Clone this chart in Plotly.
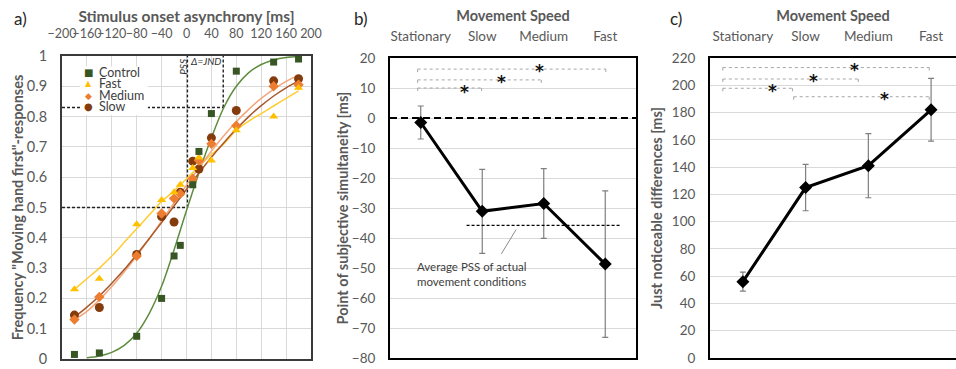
import plotly.graph_objects as go

# ---------------- Panel a data ----------------
soa = [-180, -140, -80, -40, -20, -10, 10, 20, 40, 80, 140, 180]
control = [0.015, 0.02, 0.075, 0.2, 0.34, 0.375, 0.575, 0.685, 0.81, 0.95, 0.98, 0.99]
fast = [0.23, 0.265, 0.445, 0.525, 0.55, 0.575, 0.63, 0.665, 0.655, 0.755, 0.80, 0.895]
medium = [0.13, 0.205, 0.34, 0.48, 0.53, 0.545, 0.595, 0.655, 0.71, 0.77, 0.90, 0.905]
slow = [0.145, 0.17, 0.345, 0.47, 0.452, 0.55, 0.653, 0.627, 0.73, 0.82, 0.918, 0.925]

fit_x_control = [-160, -140, -120, -100, -80, -60, -40, -20, 0, 20, 40, 60, 80, 100, 120, 140, 160, 180]
fit_control = [0.004, 0.01, 0.022, 0.045, 0.085, 0.15, 0.24, 0.36, 0.49, 0.615, 0.73, 0.83, 0.9, 0.945, 0.972, 0.987, 0.995, 0.998]
fit_x = [-180, -160, -140, -120, -100, -80, -60, -40, -20, 0, 20, 40, 60, 80, 100, 120, 140, 160, 180]
fit_fast = [0.23, 0.265, 0.30, 0.34, 0.385, 0.43, 0.475, 0.52, 0.555, 0.595, 0.635, 0.675, 0.71, 0.755, 0.785, 0.81, 0.835, 0.86, 0.885]
fit_medium = [0.13, 0.157, 0.195, 0.239, 0.288, 0.34, 0.397, 0.456, 0.515, 0.574, 0.631, 0.686, 0.737, 0.783, 0.824, 0.86, 0.89, 0.916, 0.937]
fit_slow = [0.138, 0.171, 0.208, 0.25, 0.295, 0.345, 0.397, 0.45, 0.505, 0.56, 0.614, 0.666, 0.714, 0.759, 0.80, 0.836, 0.868, 0.895, 0.918]

soa_ticks = [-200, -160, -120, -80, -40, 0, 40, 80, 120, 160, 200]
freq_ticks = [0, 0.1, 0.2, 0.3, 0.4, 0.5, 0.6, 0.7, 0.8, 0.9, 1]
pss_control = 1.5
jnd_control_x = 59
jnd_level = 0.83

# ---------------- Panel b / c data ----------------
speeds = ["Stationary", "Slow", "Medium", "Fast"]
pss_vals = [-1.5, -31.1, -28.5, -48.7]
pss_err = [5.5, 14.0, 11.6, 24.4]
pss_avg_movement = -35.8
jnd_vals = [56, 125, 141, 182]
jnd_err = [7, 17, 23.5, 23]

# significance brackets: (x_start, x_end, y, star_x, star_y)
sig_b = [(-0.05, 0.99, 10.0, 0.71, 10.7), (-0.05, 1.96, 12.7, 1.31, 14.0), (-0.05, 3.01, 16.3, 1.93, 17.7)]
sig_c = [(-0.32, 0.79, 197.8, 0.48, 200.2), (-0.32, 1.84, 204.6, 1.13, 207.5),
         (-0.32, 2.97, 213.0, 1.78, 215.6), (0.81, 2.97, 191.6, 2.25, 194.3)]

FONT = "Lato"
GRAY = "#595959"
GRID = "#D9D9D9"

fig = go.Figure()

# ---- panel a traces ----
fig.add_trace(go.Scatter(x=fit_x_control, y=fit_control, mode="lines", line=dict(color="#5E8C3E", width=1.5, shape="spline"), showlegend=False, xaxis="x", yaxis="y"))
fig.add_trace(go.Scatter(x=fit_x, y=fit_fast, mode="lines", line=dict(color="#FFCC33", width=1.5, shape="spline"), showlegend=False, xaxis="x", yaxis="y"))
fig.add_trace(go.Scatter(x=fit_x, y=fit_medium, mode="lines", line=dict(color="#F4A67A", width=1.5, shape="spline"), showlegend=False, xaxis="x", yaxis="y"))
fig.add_trace(go.Scatter(x=fit_x, y=fit_slow, mode="lines", line=dict(color="#A9582B", width=1.5, shape="spline"), showlegend=False, xaxis="x", yaxis="y"))

fig.add_trace(go.Scatter(x=soa, y=slow, mode="markers", name="Slow", marker=dict(symbol="circle", size=9, color="#843C0C"), showlegend=False, xaxis="x", yaxis="y"))
fig.add_trace(go.Scatter(x=soa, y=medium, mode="markers", name="Medium", marker=dict(symbol="diamond", size=8, color="#ED7D31"), showlegend=False, xaxis="x", yaxis="y"))
fig.add_trace(go.Scatter(x=soa, y=fast, mode="markers", name="Fast", marker=dict(symbol="triangle-up", size=8, color="#FFC000"), showlegend=False, xaxis="x", yaxis="y"))
fig.add_trace(go.Scatter(x=soa, y=control, mode="markers", name="Control", marker=dict(symbol="square", size=7, color="#375623"), showlegend=False, xaxis="x", yaxis="y"))

# ---- panel b ----
fig.add_trace(go.Scatter(x=list(range(len(speeds))), y=pss_vals, mode="lines+markers", showlegend=False,
                         line=dict(color="black", width=3), marker=dict(symbol="diamond", size=10, color="black"),
                         error_y=dict(type="data", array=pss_err, color="#7F7F7F", thickness=1.2, width=3),
                         xaxis="x2", yaxis="y2"))
# ---- panel c ----
fig.add_trace(go.Scatter(x=list(range(len(speeds))), y=jnd_vals, mode="lines+markers", showlegend=False,
                         line=dict(color="black", width=3), marker=dict(symbol="diamond", size=10, color="black"),
                         error_y=dict(type="data", array=jnd_err, color="#7F7F7F", thickness=1.2, width=3),
                         xaxis="x3", yaxis="y3"))

shapes = []
annotations = []

# panel a reference lines
dash_a = dict(color="#222222", width=1.4, dash="3px,2px")
shapes += [
    dict(type="line", xref="x", yref="y", x0=pss_control, x1=pss_control, y0=0.5, y1=1, line=dash_a, layer="between"),
    dict(type="line", xref="x", yref="y", x0=-200, x1=pss_control, y0=0.5, y1=0.5, line=dash_a, layer="between"),
    dict(type="line", xref="x", yref="y", x0=jnd_control_x, x1=jnd_control_x, y0=jnd_level, y1=1, line=dash_a, layer="between"),
    dict(type="line", xref="x", yref="y", x0=-200, x1=jnd_control_x, y0=jnd_level, y1=jnd_level, line=dash_a, layer="between"),
    # legend background
    dict(type="rect", xref="x", yref="y", x0=-171, x1=-62, y0=0.805, y1=0.965, fillcolor="white", line=dict(width=0), layer="between"),
]
# manual legend (tight spacing like the original)
legend_items = [("Control", "■", "#375623", 0.946, 10), ("Fast", "▲", "#FFC000", 0.908, 8),
                ("Medium", "◆", "#ED7D31", 0.870, 9), ("Slow", "●", "#843C0C", 0.832, 10)]
for name, glyph, col, yy, gs in legend_items:
    annotations.append(dict(xref="x", yref="y", x=-158, y=yy, text=glyph, showarrow=False, height=11,
                            font=dict(family="DejaVu Sans", size=gs, color=col), xanchor="center", yanchor="middle"))
    annotations.append(dict(xref="x", yref="y", x=-143, y=yy, text=name, showarrow=False, height=11,
                            font=dict(family=FONT, size=12.5, color="#404040"), xanchor="left", yanchor="middle"))
annotations.append(dict(xref="x", yref="y", x=-7, y=0.965, text="<i>PSS</i>", textangle=-90, showarrow=False,
                        font=dict(family=FONT, size=10, color="#333333"), xanchor="center", yanchor="middle"))
annotations.append(dict(xref="x", yref="y", x=31, y=0.982, text="<i>Δ=JND</i>", showarrow=False,
                        font=dict(family=FONT, size=10, color="#333333"), xanchor="center", yanchor="middle"))

# panel b reference lines
shapes += [
    dict(type="line", xref="x2", yref="y2", x0=-0.5, x1=3.5, y0=0, y1=0, line=dict(color="black", width=2, dash="7px,4px")),
    dict(type="line", xref="x2", yref="y2", x0=0.745, x1=3.24, y0=pss_avg_movement, y1=pss_avg_movement,
         line=dict(color="black", width=1.4, dash="3px,2px")),
    dict(type="line", xref="x2", yref="y2", x0=1.55, x1=1.31, y0=-37.2, y1=-45.3, line=dict(color="#808080", width=0.9)),
]
annotations.append(dict(xref="x2", yref="y2", x=-0.09, y=-46.5, text="Average PSS of actual<br>movement conditions",
                        showarrow=False, align="left", xanchor="left", yanchor="top",
                        font=dict(family=FONT, size=11.5, color="#404040")))


def add_brackets(sig, xr, yr, tick):
    for x0, x1, yv, sx, sy in sig:
        ln = dict(color="#A6A6A6", width=1, dash="dot")
        shapes.append(dict(type="line", xref=xr, yref=yr, x0=x0, x1=x1, y0=yv, y1=yv, line=ln))
        shapes.append(dict(type="line", xref=xr, yref=yr, x0=x0, x1=x0, y0=yv, y1=yv - tick, line=ln))
        shapes.append(dict(type="line", xref=xr, yref=yr, x0=x1, x1=x1, y0=yv, y1=yv - tick, line=ln))
        annotations.append(dict(xref=xr, yref=yr, x=sx, y=sy, text="*", showarrow=False, yshift=-6,
                                font=dict(family="DejaVu Sans", size=17, color="#111111", weight="bold"),
                                xanchor="center", yanchor="middle"))


add_brackets(sig_b, "x2", "y2", 1.6)
add_brackets(sig_c, "x3", "y3", 3.5)

# panel labels
for lab, px in [("a)", 12), ("b)", 352), ("c)", 668)]:
    annotations.append(dict(xref="paper", yref="paper", x=px / 956, y=1 - 18 / 369, text=lab, showarrow=False,
                            xanchor="left", yanchor="middle", font=dict(family=FONT, size=17, color="#262626")))

tickfont = dict(family=FONT, size=13.5, color=GRAY)
titlefont = dict(family=FONT, size=14.5, color=GRAY, weight="bold")

fig.update_layout(
    width=956, height=369, margin=dict(l=0, r=0, t=0, b=0, autoexpand=False),
    paper_bgcolor="white", plot_bgcolor="white",
    showlegend=False,
    shapes=shapes, annotations=annotations,
    xaxis=dict(domain=[62 / 956, 311 / 956], range=[-200, 200], side="top", anchor="y", automargin=False,
               tickvals=soa_ticks, tickangle=0, tickfont=dict(family=FONT, size=12.5, color=GRAY),
               showgrid=True, gridcolor=GRID, zeroline=False, ticks="", ticklabelstandoff=11,
               showline=True, linecolor="#3A3A3A", linewidth=2, mirror=True,
               title=dict(text="Stimulus onset asynchrony [ms]", font=dict(family=FONT, size=15.5, color=GRAY, weight="bold"), standoff=0)),
    yaxis=dict(domain=[10 / 369, 313 / 369], range=[0, 1], anchor="x", tickvals=freq_ticks, automargin=False,
               tickfont=dict(family=FONT, size=14.5, color=GRAY), ticklabeloverflow="allow",
               showgrid=True, gridcolor=GRID, zeroline=False, ticks="", ticklabelstandoff=10,
               showline=True, linecolor="#3A3A3A", linewidth=2, mirror=True,
               title=dict(text='Frequency "Moving hand first"-responses', font=titlefont, standoff=0)),
    xaxis2=dict(domain=[390 / 956, 636 / 956], range=[-0.5, 3.5], side="top", anchor="y2", automargin=False,
                tickvals=list(range(len(speeds))), ticktext=speeds, tickfont=tickfont, tickangle=0,
                showgrid=False, zeroline=False, ticks="", ticklabelstandoff=10,
                showline=True, linecolor="black", linewidth=2, mirror=True,
                title=dict(text="Movement Speed", font=titlefont, standoff=3)),
    yaxis2=dict(domain=[11 / 369, 311 / 369], range=[-80, 20], dtick=10, anchor="x2", tickfont=tickfont, automargin=False,
                showgrid=True, gridcolor=GRID, zeroline=False, ticks="", ticklabelstandoff=10,
                showline=True, linecolor="black", linewidth=2, mirror=True,
                title=dict(text="Point of subjective simultaneity [ms]", font=titlefont, standoff=0)),
    xaxis3=dict(domain=[710 / 956, 1.0], range=[-0.524, 3.397], side="top", anchor="y3", automargin=False,
                tickvals=list(range(len(speeds))), ticktext=speeds, tickfont=tickfont, tickangle=0,
                showgrid=False, zeroline=False, ticks="", ticklabelstandoff=10,
                showline=True, linecolor="black", linewidth=2, mirror=True,
                title=dict(text="Movement Speed", font=titlefont, standoff=3)),
    yaxis3=dict(domain=[11 / 369, 311 / 369], range=[0, 220], dtick=20, anchor="x3", tickfont=tickfont, automargin=False,
                showgrid=True, gridcolor=GRID, zeroline=False, ticks="", ticklabelstandoff=10,
                showline=True, linecolor="black", linewidth=2, mirror=False,
                title=dict(text="Just noticeable differences [ms]", font=titlefont, standoff=6)),
)

fig.write_html("out.html", config={"displayModeBar": False},
               post_script="document.body.style.margin='0px';document.body.style.overflow='hidden';")
